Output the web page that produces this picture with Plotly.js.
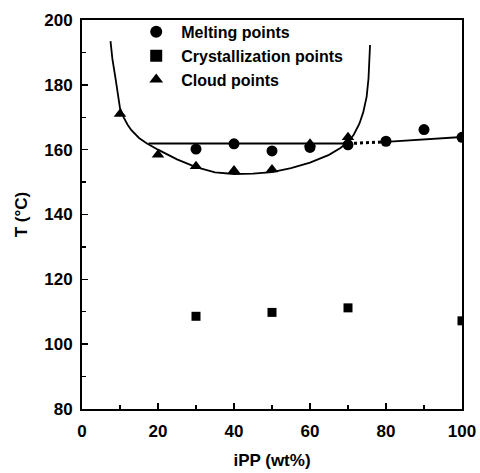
<!DOCTYPE html>
<html>
<head>
<meta charset="utf-8">
<script src="https://cdn.plot.ly/plotly-3.0.1.min.js"></script>
<style>html,body{margin:0;padding:0;background:#fff;} #chart{width:480px;height:473px;}</style>
</head>
<body>
<div id="chart"></div>
<script>
// Measured points
const meltX = [30, 40, 50, 60, 70, 80, 90, 100];
const meltY = [160.2, 161.8, 159.6, 160.7, 161.5, 162.6, 166.2, 163.8];
const crystX = [30, 50, 70, 100];
const crystY = [108.6, 109.8, 111.2, 107.2];
const cloudX = [10, 20, 30, 40, 50, 60, 70];
const cloudY = [171.0, 158.4, 154.9, 153.6, 153.9, 161.8, 163.8];

// Fitted cloud-point curve
const fitX = [7.5, 8.0, 8.9, 10, 11, 12, 13, 14, 15, 17, 20, 25, 30, 35, 40, 45, 50, 55, 60, 65, 68, 70, 71.5, 73, 74, 74.9, 75.4, 75.8];
const fitY = [193.5, 188, 181.4, 172.8, 169.9, 167.7, 166.0, 164.7, 163.6, 162.0, 160.0, 157.0, 154.6, 153.0, 152.5, 152.6, 153.1, 154.3, 156.0, 158.4, 160.5, 162.3, 164.6, 168, 171.5, 176.3, 182, 192.3];

// Melting line segments
const flatX = [17.5, 70];
const flatY = [161.9, 161.9];
const dotX = [70, 80];
const dotY = [161.9, 162.4];
const tailX = [80, 100];
const tailY = [162.4, 163.9];

const lineStyle = {color: '#000', width: 1.8};
const traces = [
  {x: fitX, y: fitY, mode: 'lines', line: {color: '#000', width: 1.8}, showlegend: false, hoverinfo: 'skip'},
  {x: flatX, y: flatY, mode: 'lines', line: lineStyle, showlegend: false, hoverinfo: 'skip'},
  {x: dotX, y: dotY, mode: 'lines', line: {color: '#000', width: 3, dash: 'dot'}, showlegend: false, hoverinfo: 'skip'},
  {x: tailX, y: tailY, mode: 'lines', line: lineStyle, showlegend: false, hoverinfo: 'skip'},
  {x: meltX, y: meltY, mode: 'markers', name: 'Melting points', marker: {symbol: 'circle', size: 11, color: '#000'}},
  {x: crystX, y: crystY, mode: 'markers', name: 'Crystallization points', marker: {symbol: 'square', size: 9, color: '#000'}},
  {x: cloudX, y: cloudY, mode: 'markers', name: 'Cloud points', marker: {symbol: 'triangle-up', size: 11, color: '#000'}}
];

const font = {family: 'Liberation Sans, Arial, sans-serif', size: 17, color: '#000', weight: 'bold'};
const layout = {
  width: 480, height: 473,
  margin: {l: 82, r: 18, t: 20, b: 64},
  paper_bgcolor: '#fff', plot_bgcolor: '#fff',
  font: font,
  showlegend: true,
  legend: {x: 0.1295, y: 1.013, xanchor: 'left', yanchor: 'top', bgcolor: 'rgba(0,0,0,0)', itemwidth: 40, font: {family: 'Liberation Sans, Arial, sans-serif', size: 16, color: '#000', weight: 'bold'}, itemsizing: 'constant'},
  xaxis: {
    range: [0, 100], dtick: 20, tick0: 0,
    ticks: 'inside', ticklen: 6, tickwidth: 1.5, tickcolor: '#000',
    minor: {dtick: 10, ticks: 'inside', ticklen: 4, tickwidth: 1.2, tickcolor: '#000'},
    showline: true, linewidth: 2, linecolor: '#000', mirror: true,
    showgrid: false, zeroline: false,
    ticklabelstandoff: 6,
    tickfont: font,
    title: {text: 'iPP (wt%)', font: font, standoff: 14}
  },
  yaxis: {
    range: [80, 200], dtick: 20, tick0: 80,
    ticks: 'inside', ticklen: 6, tickwidth: 1.5, tickcolor: '#000',
    minor: {dtick: 10, ticks: 'inside', ticklen: 4, tickwidth: 1.2, tickcolor: '#000'},
    showline: true, linewidth: 2, linecolor: '#000', mirror: true,
    showgrid: false, zeroline: false,
    ticklabelstandoff: 4,
    tickfont: font,
    title: {text: 'T (°C)', font: font, standoff: 12}
  }
};
Plotly.newPlot('chart', traces, layout, {displayModeBar: false, staticPlot: true});
</script>
</body>
</html>
